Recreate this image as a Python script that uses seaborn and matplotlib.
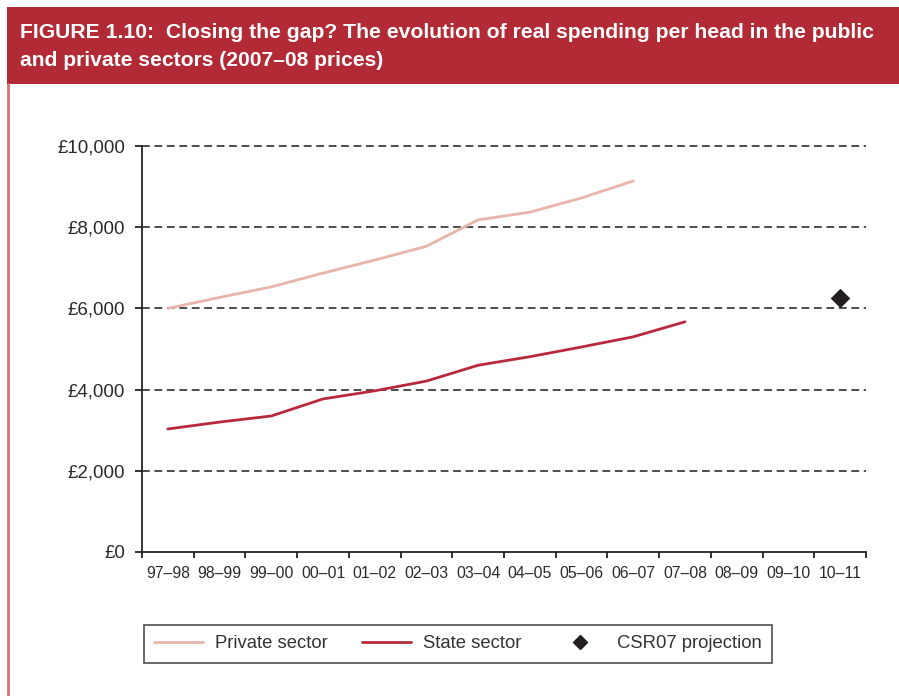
import matplotlib
matplotlib.use("Agg")
import matplotlib.pyplot as plt
import matplotlib.patches as mpatches
from matplotlib.lines import Line2D
from matplotlib.legend_handler import HandlerLine2D
import seaborn as sns
import pandas as pd
import numpy as np

years = ["97\u201398", "98\u201399", "99\u201300", "00\u201301", "01\u201302", "02\u201303", "03\u201304",
         "04\u201305", "05\u201306", "06\u201307", "07\u201308", "08\u201309", "09\u201310", "10\u201311"]
private_years = years[:10]
private_values = [6000, 6270, 6530, 6870, 7190, 7530, 8180, 8370, 8720, 9140]
state_years = years[:11]
state_values = [3030, 3200, 3350, 3770, 3970, 4210, 4600, 4810, 5050, 5300, 5670]
csr_years = ["10\u201311"]
csr_values = [6260]
yticks = [0, 2000, 4000, 6000, 8000, 10000]

sns.set_theme(style="white")
plt.rcParams['font.family'] = ['Liberation Sans', 'DejaVu Sans']

pos = {y: i for i, y in enumerate(years)}
df_p = pd.DataFrame({"x": [pos[y] for y in private_years], "v": private_values})
df_s = pd.DataFrame({"x": [pos[y] for y in state_years], "v": state_values})
df_c = pd.DataFrame({"x": [pos[y] for y in csr_years], "v": csr_values})

fig = plt.figure(figsize=(8.99, 6.96), dpi=100)
fig.patch.set_facecolor("white")

red = "#b22a35"
fig.add_artist(mpatches.Rectangle((7/899, 1-84/696), 1, 77/696, transform=fig.transFigure,
                                  facecolor=red, edgecolor="none"))
fig.add_artist(Line2D([8/899, 8/899], [0, 1-84/696], transform=fig.transFigure, color="#d9737a", lw=2))
title_kw = dict(color="white", fontsize=15.2, fontweight="bold", va="center", ha="left",
                family=['Liberation Sans', 'DejaVu Sans'])
fig.text(20/899, 1-33/696, "FIGURE 1.10:  Closing the gap? The evolution of real spending per head in the public", **title_kw)
fig.text(20/899, 1-60/696, "and private sectors (2007\u201308 prices)", **title_kw)

ax = fig.add_axes([142/899, 1-552/696, (866-142)/899, (552-146)/696])
ax.set_facecolor("white")

for yv in yticks[1:]:
    ax.axhline(yv, color="#4d4d4d", lw=1.4, ls=(0, (4, 2.4)), zorder=1, clip_on=False)

sns.lineplot(data=df_p, x="x", y="v", ax=ax, color="#e9b4a9", lw=2, label="Private sector", zorder=3)
sns.lineplot(data=df_s, x="x", y="v", ax=ax, color="#b8293b", lw=2, label="State sector", zorder=3)
sns.scatterplot(data=df_c, x="x", y="v", ax=ax, marker="D", s=85, color="#231f20",
                edgecolor="#231f20", label="CSR07 projection", zorder=4)

ax.set_xlim(-0.5, 13.5)
ax.set_ylim(0, 10000)
ax.set_xlabel("")
ax.set_ylabel("")
ax.set_yticks(yticks)
ax.set_yticklabels([f"\u00a3{v:,}" for v in yticks], fontsize=13.5, color="#2a2a2a")
ax.set_xticks(np.arange(-0.5, 14, 1))
ax.set_xticklabels([])
ax.set_xticks(np.arange(14), minor=True)
ax.set_xticklabels(years, minor=True, fontsize=11.3, color="#2a2a2a")
ax.tick_params(axis="x", which="major", direction="out", length=4.5, width=1.3, color="#222222", bottom=True)
ax.tick_params(axis="x", which="minor", length=0, pad=10, bottom=True)
ax.tick_params(axis="y", direction="out", length=5, width=1.3, color="#222222", left=True, pad=7)
for s in ["top", "right"]:
    ax.spines[s].set_visible(False)
for s in ["left", "bottom"]:
    ax.spines[s].set_color("#222222")
    ax.spines[s].set_linewidth(1.3)

ax.get_legend().remove()


class RightMarkerHandler(HandlerLine2D):
    def get_xdata(self, legend, xdescent, ydescent, width, height, fontsize):
        xdata = [-xdescent, -xdescent + width]
        xdata_marker = [-xdescent + 0.8 * width]
        return xdata, xdata_marker


handles = [Line2D([], [], color="#e9b4a9", lw=2),
           Line2D([], [], color="#b8293b", lw=2),
           Line2D([], [], color="#231f20", marker="D", ls="none", markersize=7)]
leg = fig.legend(handles, ["Private sector", "State sector", "CSR07 projection"], ncol=3,
                 loc="center", bbox_to_anchor=(458/899, 1-644/696), frameon=True, fancybox=False,
                 fontsize=13.3, handlelength=2.65, columnspacing=1.85, borderpad=0.55, handletextpad=0.65,
                 handler_map={handles[2]: RightMarkerHandler(numpoints=1)})
leg.get_frame().set_edgecolor("#222222")
leg.get_frame().set_linewidth(1.2)
for t in leg.get_texts():
    t.set_color("#333333")

fig.savefig("out.png", dpi=100, facecolor="white")
